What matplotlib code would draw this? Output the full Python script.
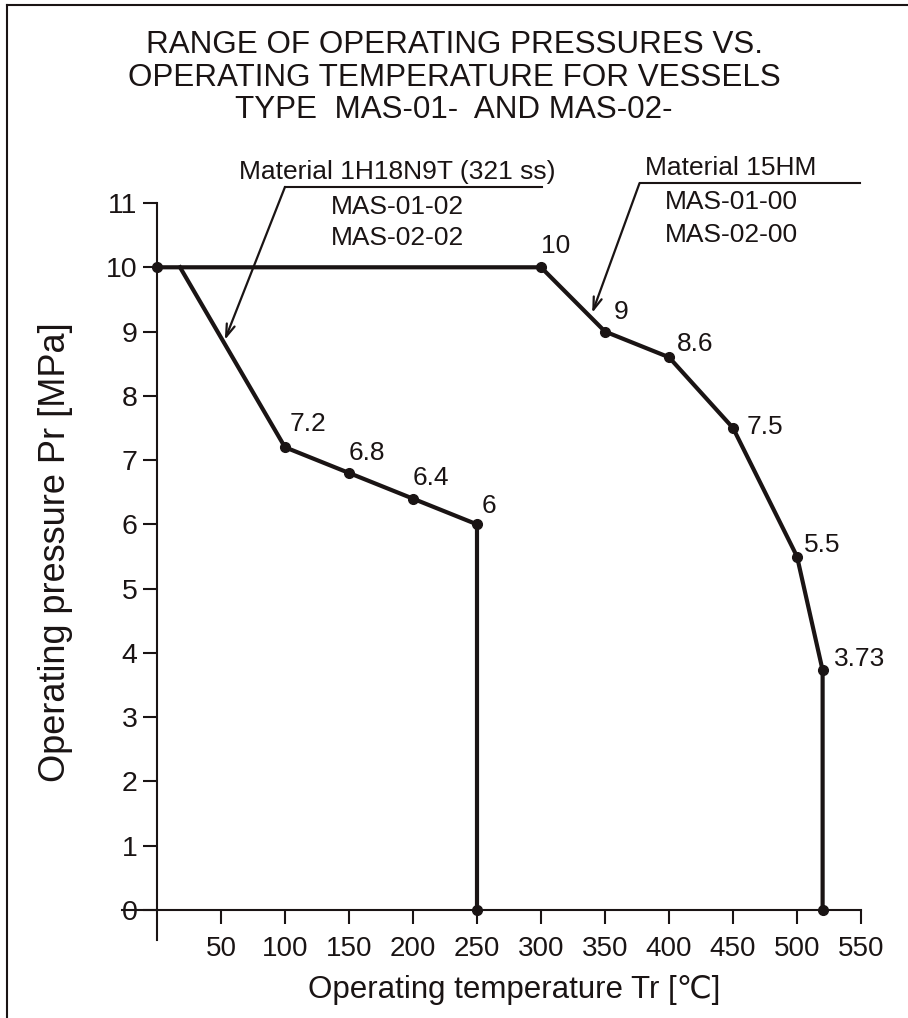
import matplotlib
matplotlib.use("Agg")
import matplotlib.pyplot as plt
from matplotlib.lines import Line2D

plt.rcParams['font.family'] = ['Liberation Sans', 'DejaVu Sans']

# data
hm_temp = [0, 300, 350, 400, 450, 500, 520, 520]
hm_pres = [10, 10, 9, 8.6, 7.5, 5.5, 3.73, 0]
ss_temp = [18, 100, 150, 200, 250, 250]
ss_pres = [10, 7.2, 6.8, 6.4, 6, 0]

# which points carry a value label
hm_lab_idx = [1, 2, 3, 4, 5, 6]
ss_lab_idx = [1, 2, 3, 4]

x_ticks = [50, 100, 150, 200, 250, 300, 350, 400, 450, 500, 550]
y_ticks = list(range(0, 12))

title_lines = ["RANGE OF OPERATING PRESSURES VS.",
               "OPERATING TEMPERATURE FOR VESSELS",
               "TYPE  MAS-01-  AND MAS-02-"]
ss_name = "Material 1H18N9T (321 ss)"
ss_types = ["MAS-01-02", "MAS-02-02"]
hm_name = "Material 15HM"
hm_types = ["MAS-01-00", "MAS-02-00"]

# label offsets in points (layout only)
hm_off = [(0, 15), (6.5, 14.4), (5.8, 9.4), (10, 0.7), (5, 8), (8, 8)]
ss_off = [(3.6, 16.5), (0, 14.4), (0, 15), (3.6, 13)]

fig = plt.figure(figsize=(9.08, 10.18), dpi=100)
ax = fig.add_axes([0.1306, 0.0682, 0.8388, 0.745])
ax.set_xlim(-30, 565)
ax.set_ylim(-0.6, 11.2)

for s in ['top', 'right']:
    ax.spines[s].set_visible(False)
ax.spines['left'].set_position(('data', 0))
ax.spines['bottom'].set_position(('data', 0))
ax.spines['left'].set_bounds(-0.47, 11)
ax.spines['bottom'].set_bounds(-27, 550)
lc = '#1a1414'
for s in ['left', 'bottom']:
    ax.spines[s].set_linewidth(1.5)
    ax.spines[s].set_color(lc)

ax.set_xticks(x_ticks)
ax.set_yticks(y_ticks)
ax.tick_params(axis='both', direction='out', length=10, width=1.5, colors=lc)
ax.tick_params(axis='x', pad=9, labelsize=20)
ax.tick_params(axis='y', pad=4, labelsize=20.5)

ax.plot(hm_temp, hm_pres, color=lc, lw=3, solid_joinstyle='round', clip_on=False)
ax.plot(hm_temp, hm_pres, 'o', color=lc, ms=7, clip_on=False)
ax.plot(ss_temp, ss_pres, color=lc, lw=3, solid_joinstyle='round', clip_on=False)
ax.plot(ss_temp[1:], ss_pres[1:], 'o', color=lc, ms=7, clip_on=False)

for i, off in zip(hm_lab_idx, hm_off):
    ax.annotate('{:g}'.format(hm_pres[i]), (hm_temp[i], hm_pres[i]), xytext=off,
                textcoords='offset points', ha='left', va='center', fontsize=19, color=lc)
for i, off in zip(ss_lab_idx, ss_off):
    ax.annotate('{:g}'.format(ss_pres[i]), (ss_temp[i], ss_pres[i]), xytext=off,
                textcoords='offset points', ha='left', va='center', fontsize=19, color=lc)

# material callouts
arrow = dict(arrowstyle='->,head_length=0.9,head_width=0.3', color=lc, lw=1.6,
             shrinkA=0, shrinkB=0)
ax.text(188, 11.48, ss_name, ha='center', va='center', fontsize=19, color=lc)
ax.plot([100, 301], [11.25, 11.25], color=lc, lw=1.5, clip_on=False)
ax.annotate('', xy=(53, 8.87), xytext=(100, 11.25), arrowprops=arrow, annotation_clip=False)
for k, t in enumerate(ss_types):
    ax.text(188, 10.94 - 0.48 * k, t, ha='center', va='center', fontsize=19, color=lc)

ax.text(448, 11.55, hm_name, ha='center', va='center', fontsize=19, color=lc)
ax.plot([377, 549], [11.31, 11.31], color=lc, lw=1.5, clip_on=False)
ax.annotate('', xy=(340, 9.29), xytext=(377, 11.31), arrowprops=arrow, annotation_clip=False)
for k, t in enumerate(hm_types):
    ax.text(449, 11.02 - 0.52 * k, t, ha='center', va='center', fontsize=19, color=lc)

ax.set_xlabel("Operating temperature Tr [℃]", fontsize=22.5, color=lc)
ax.xaxis.set_label_coords(0.52, -0.035)
ax.set_ylabel("Operating pressure Pr [MPa]", fontsize=26, color=lc)
ax.yaxis.set_label_coords(-0.06, 0.523)

for k, line in enumerate(title_lines):
    fig.text(0.5, 1 - (45 + 32.5 * k) / 1018, line, ha='center', va='center', fontsize=22.6, color=lc)

# frame lines at the left and top of the picture
fig.add_artist(Line2D([7 / 908, 7 / 908], [0, 1 - 5 / 1018], transform=fig.transFigure, color=lc, lw=1.5))
fig.add_artist(Line2D([7 / 908, 1], [1 - 5 / 1018, 1 - 5 / 1018], transform=fig.transFigure, color=lc, lw=1.5))

fig.savefig("out.png", dpi=100)
